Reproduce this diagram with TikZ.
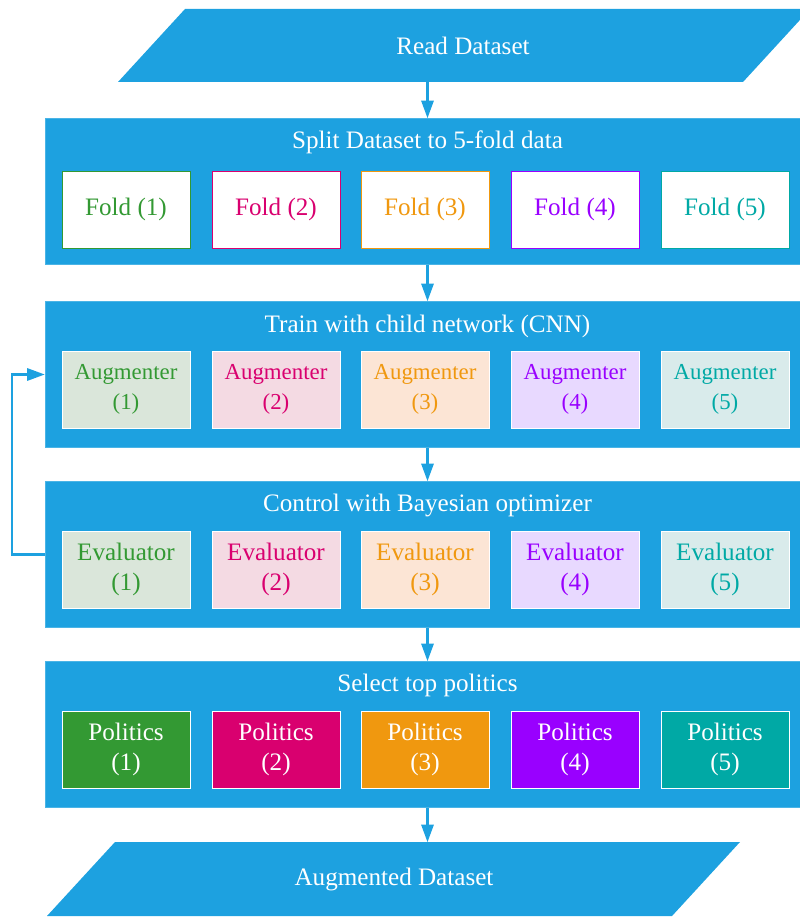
\documentclass[tikz,border=0pt]{standalone}
\usepackage{fontspec}
\setmainfont{Liberation Serif}
\usetikzlibrary{arrows.meta}

\definecolor{flowblue}{HTML}{1DA1E0}
\definecolor{cone}{HTML}{339933}
\definecolor{ctwo}{HTML}{D9006F}
\definecolor{cthree}{HTML}{F0980F}
\definecolor{cfour}{HTML}{9900FF}
\definecolor{cfive}{HTML}{00A9A5}
\definecolor{lone}{HTML}{DAE6DA}
\definecolor{ltwo}{HTML}{F4DAE3}
\definecolor{lthree}{HTML}{FCE5D5}
\definecolor{lfour}{HTML}{E8D9FF}
\definecolor{lfive}{HTML}{D9EBEB}

\tikzset{
	stage/.style={fill=flowblue, draw=flowblue!80!white, minimum width=15.3cm, minimum height=2.92cm, inner sep=0pt},
	stagetitle/.style={text=white, font=\fontsize{14.3}{17}\selectfont},
	iotext/.style={text=white, font=\fontsize{14.3}{17}\selectfont, minimum height=1.46cm, inner sep=0pt},
	foldbox/.style={fill=white, draw=#1, text=#1, minimum width=2.56cm, minimum height=1.54cm, inner sep=0pt, font=\fontsize{14.3}{17}\selectfont},
	augbox/.style={draw=white, minimum width=2.56cm, minimum height=1.54cm, inner sep=0pt, align=center},
	arr/.style={flowblue, line width=1.2pt, -{Triangle[length=10pt, width=7pt]}}
}

\begin{document}
\begin{tikzpicture}[x=0.02cm, y=-0.02cm]
	\useasboundingbox (0,0) rectangle (799,918);

	% Eingang
	\fill[flowblue] (118,82) -- (185,9) -- (810,9) -- (743,82) -- cycle;
	\node[iotext] (read) at (463,45.5) {Read Dataset};

	% Stufen
	\node[stage] (split) at (427.5,191.5) {};
	\node[stagetitle] (splitt) at (427.5,142) {Split Dataset to 5-fold data};
	\node[stage] (train) at (427.5,374.5) {};
	\node[stagetitle] (traint) at (427.5,326) {Train with child network (CNN)};
	\node[stage] (control) at (427.5,554.5) {};
	\node[stagetitle] (controlt) at (427.5,505) {Control with Bayesian optimizer};
	\node[stage] (select) at (427.5,734.5) {};
	\node[stagetitle] (selectt) at (427.5,685) {Select top politics};

	% Kästchen
	\foreach \i/\c/\l/\xx in {1/cone/lone/126, 2/ctwo/ltwo/276, 3/cthree/lthree/425, 4/cfour/lfour/575, 5/cfive/lfive/725} {
		\node[foldbox=\c] (fold\i) at (\xx,209.5) {Fold (\i)};
		\node[augbox, fill=\l, text=\c, font=\fontsize{13}{17}\selectfont] (aug\i) at (\xx,389.5) {Augmenter\\(\i)};
		\node[augbox, fill=\l, text=\c, font=\fontsize{14.3}{17}\selectfont] (eval\i) at (\xx,569.5) {Evaluator\\(\i)};
		\node[augbox, fill=\c, text=white, font=\fontsize{14.3}{17}\selectfont] (pol\i) at (\xx,749.5) {Politics\\(\i)};
	}

	% Ausgang
	\fill[flowblue] (47,916) -- (115,842) -- (740,842) -- (672,916) -- cycle;
	\node[iotext] (out) at (394,879) {Augmented Dataset};

	% Pfeile
	\draw[arr] (read.south -| split.north) -- (split.north);
	\draw[arr] (split.south) -- (train.north);
	\draw[arr] (train.south) -- (control.north);
	\draw[arr] (control.south) -- (select.north);
	\draw[arr] (select.south) -- (out.north -| select.south);
	\draw[arr] (control.west) -- ++(-33,0) |- (train.west);	% Rückkopplung
\end{tikzpicture}
\end{document}
